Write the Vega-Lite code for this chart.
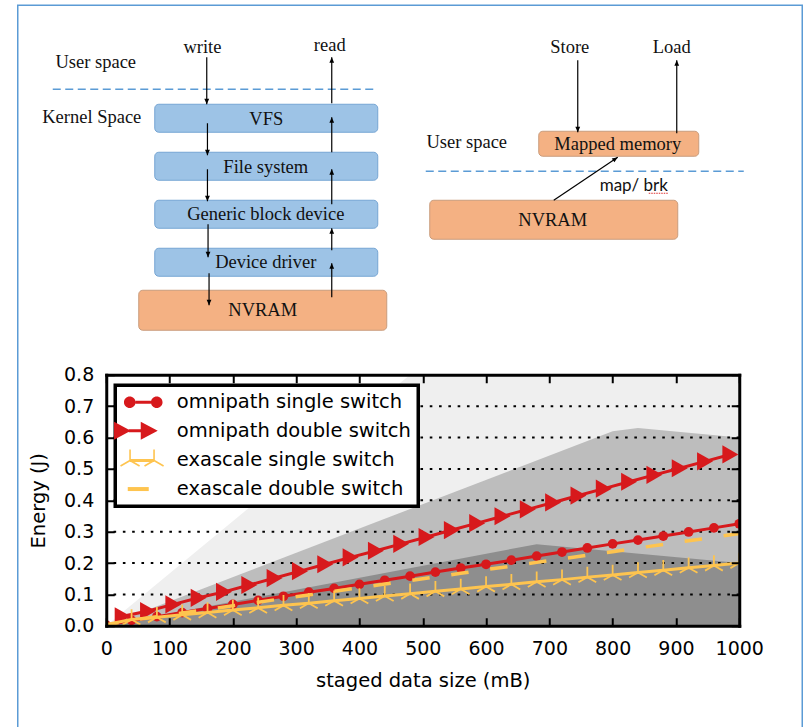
{
  "$schema": "https://vega.github.io/schema/vega-lite/v6.json",
  "padding": {"left": 16.25, "top": 4.25, "right": 2, "bottom": 0},
  "autosize": {"type": "pad"},
  "bounds": "flush",
  "spacing": 9.5,
  "config": {
    "view": {"stroke": null},
    "font": "DejaVu Sans",
    "axis": {"labelColor": "black", "titleColor": "black", "tickColor": "black", "domainColor": "black", "labelFont": "DejaVu Sans", "titleFont": "DejaVu Sans", "titleFontWeight": "normal"},
    "legend": {"strokeWidth": 3.5}
  },
  "datasets": {
    "frame": [{"x": 0, "x2": 784.5, "y": 0, "y2": 735}],
    "dashes": [{"x": 35, "x2": 358, "y": 84}, {"x": 408, "x2": 726, "y": 166}],
    "boxes": [
      {"x": 137, "x2": 360, "y": 99, "y2": 127, "k": "kernel"},
      {"x": 137, "x2": 360, "y": 147, "y2": 175, "k": "kernel"},
      {"x": 137, "x2": 360, "y": 195, "y2": 223, "k": "kernel"},
      {"x": 137, "x2": 360, "y": 243, "y2": 271, "k": "kernel"},
      {"x": 121, "x2": 369, "y": 285, "y2": 325, "k": "memory"},
      {"x": 521, "x2": 681, "y": 126, "y2": 151, "k": "memory"},
      {"x": 412, "x2": 660, "y": 195, "y2": 234, "k": "memory"}
    ],
    "arrows": [
      {"x": 189, "y": 52, "x2": 189, "y2": 99, "d": "down"},
      {"x": 189.7, "y": 118, "x2": 189.7, "y2": 150, "d": "down"},
      {"x": 189.7, "y": 164, "x2": 189.7, "y2": 196, "d": "down"},
      {"x": 190.3, "y": 219, "x2": 190.3, "y2": 252, "d": "down"},
      {"x": 191.3, "y": 268, "x2": 191.3, "y2": 300, "d": "down"},
      {"x": 314, "y": 98, "x2": 314, "y2": 52, "d": "up"},
      {"x": 314, "y": 147, "x2": 314, "y2": 112, "d": "up"},
      {"x": 314, "y": 199, "x2": 314, "y2": 164, "d": "up"},
      {"x": 314, "y": 245, "x2": 314, "y2": 223, "d": "up"},
      {"x": 314, "y": 292, "x2": 314, "y2": 258, "d": "up"},
      {"x": 560, "y": 55, "x2": 560, "y2": 127, "d": "down"},
      {"x": 659, "y": 128, "x2": 659, "y2": 55, "d": "up"},
      {"x": 536, "y": 195, "x2": 600, "y2": 152, "d": "diag"}
    ],
    "labels": [
      {"x": 78, "y": 57, "t": "User space"},
      {"x": 74, "y": 112, "t": "Kernel Space"},
      {"x": 184.7, "y": 42, "t": "write"},
      {"x": 312, "y": 39.5, "t": "read"},
      {"x": 248.5, "y": 113.7, "t": "VFS"},
      {"x": 248, "y": 161.3, "t": "File system"},
      {"x": 248, "y": 209, "t": "Generic block device"},
      {"x": 248, "y": 257, "t": "Device driver"},
      {"x": 245, "y": 305, "t": "NVRAM"},
      {"x": 552, "y": 41.7, "t": "Store"},
      {"x": 654, "y": 41.7, "t": "Load"},
      {"x": 449, "y": 136.3, "t": "User space"},
      {"x": 600, "y": 138.7, "t": "Mapped memory"},
      {"x": 535, "y": 214.7, "t": "NVRAM"}
    ],
    "sansLabels": [{"x": 616, "y": 180.5, "t": "map/ brk"}],
    "squiggle": [{"x": 631, "x2": 650, "y": 188}],
    "bandLight": [{"x": 0, "y": 0}, {"x": 480, "y": 0.8}, {"x": 1000, "y": 0.8}],
    "bandMid": [{"x": 0, "y": 0}, {"x": 800, "y": 0.62}, {"x": 840, "y": 0.63}, {"x": 1000, "y": 0.6}],
    "bandDark": [{"x": 0, "y": 0}, {"x": 680, "y": 0.26}, {"x": 1000, "y": 0.2}],
    "grid": [{"g": 0.1}, {"g": 0.2}, {"g": 0.3}, {"g": 0.4}, {"g": 0.5}, {"g": 0.6}, {"g": 0.7}],
    "os": [
      {"x": 0, "y": 0.002}, {"x": 40, "y": 0.017}, {"x": 80, "y": 0.029}, {"x": 120, "y": 0.042}, {"x": 160, "y": 0.055},
      {"x": 200, "y": 0.068}, {"x": 240, "y": 0.081}, {"x": 280, "y": 0.094}, {"x": 320, "y": 0.107}, {"x": 360, "y": 0.119},
      {"x": 400, "y": 0.132}, {"x": 440, "y": 0.145}, {"x": 480, "y": 0.158}, {"x": 520, "y": 0.171}, {"x": 560, "y": 0.184},
      {"x": 600, "y": 0.196}, {"x": 640, "y": 0.209}, {"x": 680, "y": 0.222}, {"x": 720, "y": 0.235}, {"x": 760, "y": 0.248},
      {"x": 800, "y": 0.261}, {"x": 840, "y": 0.273}, {"x": 880, "y": 0.286}, {"x": 920, "y": 0.299}, {"x": 960, "y": 0.312},
      {"x": 1000, "y": 0.325}
    ],
    "od": [
      {"x": 26, "y": 0.030}, {"x": 66, "y": 0.047}, {"x": 106, "y": 0.068}, {"x": 146, "y": 0.089}, {"x": 186, "y": 0.108},
      {"x": 226, "y": 0.130}, {"x": 266, "y": 0.152}, {"x": 306, "y": 0.174}, {"x": 346, "y": 0.196}, {"x": 386, "y": 0.218},
      {"x": 426, "y": 0.239}, {"x": 466, "y": 0.261}, {"x": 506, "y": 0.283}, {"x": 546, "y": 0.305}, {"x": 586, "y": 0.327},
      {"x": 626, "y": 0.349}, {"x": 666, "y": 0.371}, {"x": 706, "y": 0.393}, {"x": 746, "y": 0.415}, {"x": 786, "y": 0.437},
      {"x": 826, "y": 0.459}, {"x": 866, "y": 0.481}, {"x": 906, "y": 0.502}, {"x": 946, "y": 0.524}, {"x": 986, "y": 0.546}
    ],
    "es": [
      {"x": 0, "y": 0.004}, {"x": 40, "y": 0.020}, {"x": 80, "y": 0.027}, {"x": 120, "y": 0.035}, {"x": 160, "y": 0.042},
      {"x": 200, "y": 0.050}, {"x": 240, "y": 0.057}, {"x": 280, "y": 0.065}, {"x": 320, "y": 0.072}, {"x": 360, "y": 0.080},
      {"x": 400, "y": 0.087}, {"x": 440, "y": 0.095}, {"x": 480, "y": 0.102}, {"x": 520, "y": 0.110}, {"x": 560, "y": 0.117},
      {"x": 600, "y": 0.125}, {"x": 640, "y": 0.132}, {"x": 680, "y": 0.140}, {"x": 720, "y": 0.147}, {"x": 760, "y": 0.155},
      {"x": 800, "y": 0.162}, {"x": 840, "y": 0.170}, {"x": 880, "y": 0.177}, {"x": 920, "y": 0.185}, {"x": 960, "y": 0.192},
      {"x": 1000, "y": 0.200}
    ],
    "ed": [
      {"x": 0, "y": 0.002}, {"x": 40, "y": 0.018}, {"x": 80, "y": 0.029}, {"x": 120, "y": 0.041}, {"x": 160, "y": 0.052},
      {"x": 200, "y": 0.064}, {"x": 240, "y": 0.075}, {"x": 280, "y": 0.087}, {"x": 320, "y": 0.098}, {"x": 360, "y": 0.110},
      {"x": 400, "y": 0.121}, {"x": 440, "y": 0.133}, {"x": 480, "y": 0.144}, {"x": 520, "y": 0.156}, {"x": 560, "y": 0.167},
      {"x": 600, "y": 0.179}, {"x": 640, "y": 0.190}, {"x": 680, "y": 0.202}, {"x": 720, "y": 0.213}, {"x": 760, "y": 0.225},
      {"x": 800, "y": 0.236}, {"x": 840, "y": 0.248}, {"x": 880, "y": 0.259}, {"x": 920, "y": 0.271}, {"x": 960, "y": 0.282},
      {"x": 1000, "y": 0.294}
    ],
    "legendItems": [
      {"s": "omnipath single switch"},
      {"s": "omnipath double switch"},
      {"s": "exascale single switch"},
      {"s": "exascale double switch"}
    ]
  },
  "resolve": {"scale": {"x": "independent", "y": "independent", "shape": "independent", "color": "independent"}},
  "vconcat": [
    {
      "width": 634,
      "height": 360,
      "layer": [
        {
          "data": {"name": "frame"},
          "mark": {"type": "rect", "filled": false, "color": "#5b9bd5", "strokeWidth": 1.5},
          "encoding": {
            "x": {"field": "x", "type": "quantitative", "scale": {"domain": [0, 784], "range": [-88.5, 695.5], "nice": false, "zero": false}, "axis": null},
            "x2": {"field": "x2"},
            "y": {"field": "y", "type": "quantitative", "scale": {"domain": [0, 360], "range": [0, 360], "nice": false, "zero": false}, "axis": null},
            "y2": {"field": "y2"}
          }
        },
        {
          "data": {"name": "dashes"},
          "mark": {"type": "rule", "color": "#5b9bd5", "strokeWidth": 1.5, "strokeDash": [8, 4.5]},
          "encoding": {
            "x": {"field": "x", "type": "quantitative", "axis": null},
            "x2": {"field": "x2"},
            "y": {"field": "y", "type": "quantitative", "axis": null}
          }
        },
        {
          "data": {"name": "boxes"},
          "mark": {"type": "rect", "cornerRadius": 4, "strokeWidth": 1},
          "encoding": {
            "x": {"field": "x", "type": "quantitative", "axis": null},
            "x2": {"field": "x2"},
            "y": {"field": "y", "type": "quantitative", "axis": null},
            "y2": {"field": "y2"},
            "fill": {"field": "k", "type": "nominal", "scale": {"domain": ["kernel", "memory"], "range": ["#9dc3e6", "#f4b183"]}, "legend": null},
            "stroke": {"field": "k", "type": "nominal", "scale": {"domain": ["kernel", "memory"], "range": ["#76a5d3", "#c99c7c"]}, "legend": null}
          }
        },
        {
          "data": {"name": "arrows"},
          "mark": {"type": "rule", "color": "black", "strokeWidth": 1.2},
          "encoding": {
            "x": {"field": "x", "type": "quantitative", "axis": null},
            "x2": {"field": "x2"},
            "y": {"field": "y", "type": "quantitative", "axis": null},
            "y2": {"field": "y2"}
          }
        },
        {
          "data": {"name": "arrows"},
          "mark": {"type": "point", "filled": true, "color": "black", "opacity": 1, "size": 64},
          "encoding": {
            "x": {"field": "x2", "type": "quantitative", "axis": null},
            "y": {"field": "y2", "type": "quantitative", "axis": null},
            "shape": {"field": "d", "type": "nominal", "scale": {"domain": ["down", "up", "diag"], "range": ["M0,0L-0.6,-1.4L0.6,-1.4Z", "M0,0L-0.6,1.4L0.6,1.4Z", "M0,0L-0.827,1.279L-1.497,0.283Z"]}, "legend": null}
          }
        },
        {
          "data": {"name": "labels"},
          "mark": {"type": "text", "font": "Liberation Serif", "fontSize": 18.5, "color": "#111111", "align": "center", "baseline": "middle"},
          "encoding": {
            "x": {"field": "x", "type": "quantitative", "axis": null},
            "y": {"field": "y", "type": "quantitative", "axis": null},
            "text": {"field": "t"}
          }
        },
        {
          "data": {"name": "sansLabels"},
          "mark": {"type": "text", "font": "Lato", "fontSize": 17, "color": "#111111", "align": "center", "baseline": "middle"},
          "encoding": {
            "x": {"field": "x", "type": "quantitative", "axis": null},
            "y": {"field": "y", "type": "quantitative", "axis": null},
            "text": {"field": "t"}
          }
        },
        {
          "data": {"name": "squiggle"},
          "mark": {"type": "rule", "color": "#e03030", "strokeWidth": 1.2, "strokeDash": [1.5, 1]},
          "encoding": {
            "x": {"field": "x", "type": "quantitative", "axis": null},
            "x2": {"field": "x2"},
            "y": {"field": "y", "type": "quantitative", "axis": null}
          }
        }
      ]
    },
    {
      "width": 633,
      "height": 251,
      "resolve": {"axis": {"x": "independent", "y": "independent"}},
      "layer": [
        {
          "data": {"name": "bandLight"},
          "mark": {"type": "area", "color": "#efefef", "clip": true, "opacity": 1},
          "encoding": {
            "x": {"field": "x", "type": "quantitative", "scale": {"domain": [0, 1000], "nice": false, "zero": false},
              "axis": {"orient": "bottom", "values": [0, 100, 200, 300, 400, 500, 600, 700, 800, 900, 1000], "format": "d", "tickSize": -8, "tickWidth": 2, "labelPadding": 21.5, "labelFontSize": 19, "labelFlush": false, "labelOverlap": false, "domain": true, "domainWidth": 3, "domainCap": "square", "grid": false, "title": "staged data size (mB)", "titleFontSize": 19.5, "titlePadding": 13, "zindex": 1}},
            "y": {"field": "y", "type": "quantitative", "scale": {"domain": [0, 0.8], "nice": false, "zero": false},
              "axis": {"orient": "left", "values": [0, 0.1, 0.2, 0.3, 0.4, 0.5, 0.6, 0.7, 0.8], "format": ".1f", "tickSize": -8, "tickWidth": 2, "labelPadding": 20.5, "labelFontSize": 19, "labelFlush": false, "labelOverlap": false, "domain": true, "domainWidth": 3, "domainCap": "square", "grid": false, "title": "Energy (J)", "titleFontSize": 19.5, "titlePadding": 15, "zindex": 1}}
          }
        },
        {
          "data": {"name": "bandMid"},
          "mark": {"type": "area", "color": "#bdbdbd", "clip": true, "opacity": 1},
          "encoding": {
            "x": {"field": "x", "type": "quantitative", "scale": {"domain": [0, 1000], "nice": false, "zero": false}, "axis": null},
            "y": {"field": "y", "type": "quantitative", "scale": {"domain": [0, 0.8], "nice": false, "zero": false}, "axis": null}
          }
        },
        {
          "data": {"name": "bandDark"},
          "mark": {"type": "area", "color": "#8e8e8e", "clip": true, "opacity": 1},
          "encoding": {
            "x": {"field": "x", "type": "quantitative", "scale": {"domain": [0, 1000], "nice": false, "zero": false}, "axis": null},
            "y": {"field": "y", "type": "quantitative", "scale": {"domain": [0, 0.8], "nice": false, "zero": false}, "axis": null}
          }
        },
        {
          "data": {"name": "grid"},
          "mark": {"type": "rule", "color": "black", "strokeWidth": 2, "strokeDash": [2.6, 6.7]},
          "encoding": {
            "y": {"field": "g", "type": "quantitative", "scale": {"domain": [0, 0.8], "nice": false, "zero": false}, "axis": null}
          }
        },
        {
          "data": {"name": "os"},
          "mark": {"type": "line", "color": "#d7191c", "strokeWidth": 3, "clip": true},
          "encoding": {
            "x": {"field": "x", "type": "quantitative", "scale": {"domain": [0, 1000], "nice": false, "zero": false}, "axis": null},
            "y": {"field": "y", "type": "quantitative", "scale": {"domain": [0, 0.8], "nice": false, "zero": false}, "axis": null}
          }
        },
        {
          "data": {"name": "os"},
          "mark": {"type": "point", "shape": "circle", "filled": true, "size": 95, "color": "#d7191c", "opacity": 1, "clip": true},
          "encoding": {
            "x": {"field": "x", "type": "quantitative", "scale": {"domain": [0, 1000], "nice": false, "zero": false}, "axis": null},
            "y": {"field": "y", "type": "quantitative", "scale": {"domain": [0, 0.8], "nice": false, "zero": false}, "axis": null}
          }
        },
        {
          "data": {"name": "od"},
          "mark": {"type": "line", "color": "#d7191c", "strokeWidth": 3, "clip": true},
          "encoding": {
            "x": {"field": "x", "type": "quantitative", "scale": {"domain": [0, 1000], "nice": false, "zero": false}, "axis": null},
            "y": {"field": "y", "type": "quantitative", "scale": {"domain": [0, 0.8], "nice": false, "zero": false}, "axis": null}
          }
        },
        {
          "data": {"name": "od"},
          "mark": {"type": "point", "shape": "M-0.88,-1L0.88,0L-0.88,1Z", "filled": true, "size": 330, "color": "#d7191c", "opacity": 1, "clip": true},
          "encoding": {
            "x": {"field": "x", "type": "quantitative", "scale": {"domain": [0, 1000], "nice": false, "zero": false}, "axis": null},
            "y": {"field": "y", "type": "quantitative", "scale": {"domain": [0, 0.8], "nice": false, "zero": false}, "axis": null}
          }
        },
        {
          "data": {"name": "es"},
          "mark": {"type": "line", "color": "#fec44f", "strokeWidth": 3, "clip": true},
          "encoding": {
            "x": {"field": "x", "type": "quantitative", "scale": {"domain": [0, 1000], "nice": false, "zero": false}, "axis": null},
            "y": {"field": "y", "type": "quantitative", "scale": {"domain": [0, 0.8], "nice": false, "zero": false}, "axis": null}
          }
        },
        {
          "data": {"name": "es"},
          "mark": {"type": "point", "shape": "M0,0L0,-1M0,0L-0.866,0.5M0,0L0.866,0.5", "filled": false, "size": 420, "color": "#fec44f", "strokeWidth": 1.8, "opacity": 1, "clip": true},
          "encoding": {
            "x": {"field": "x", "type": "quantitative", "scale": {"domain": [0, 1000], "nice": false, "zero": false}, "axis": null},
            "y": {"field": "y", "type": "quantitative", "scale": {"domain": [0, 0.8], "nice": false, "zero": false}, "axis": null}
          }
        },
        {
          "data": {"name": "legendItems"},
          "mark": {"type": "point", "filled": true, "opacity": 1, "clip": true},
          "encoding": {
            "x": {"datum": 500, "type": "quantitative", "scale": {"domain": [0, 1000], "nice": false, "zero": false}, "axis": null},
            "y": {"datum": 5, "type": "quantitative", "scale": {"domain": [0, 0.8], "nice": false, "zero": false}, "axis": null},
            "color": {"field": "s", "type": "nominal",
              "scale": {"domain": ["omnipath single switch", "omnipath double switch", "exascale single switch", "exascale double switch"], "range": ["#d7191c", "#d7191c", "#fec44f", "#fec44f"]},
              "legend": {"title": null, "orient": "none", "legendX": 9, "legendY": 10.5, "direction": "vertical", "padding": 7, "rowPadding": 8.6, "strokeColor": "black", "fillColor": "white", "labelFont": "DejaVu Sans", "labelFontSize": 19.5, "labelColor": "black", "labelOffset": 26, "symbolOffset": 8.5, "symbolSize": 400, "symbolStrokeWidth": 0, "symbolOpacity": 1, "labelLimit": 400, "zindex": 2}},
            "shape": {"field": "s", "type": "nominal",
              "scale": {"domain": ["omnipath single switch", "omnipath double switch", "exascale single switch", "exascale double switch"],
                "range": [
                  "M-1.68,0A0.58,0.58 0 1,1 -0.52,0A0.58,0.58 0 1,1 -1.68,0ZM1.02,0A0.58,0.58 0 1,1 2.18,0A0.58,0.58 0 1,1 1.02,0ZM-0.52,-0.15L1.02,-0.15L1.02,0.15L-0.52,0.15Z",
                  "M-2.67,-0.9L-1,0L-2.67,0.9ZM0,-0.9L1.7,0L0,0.9ZM-1.2,-0.15L0.1,-0.15L0.1,0.15L-1.2,0.15Z",
                  "M-1.15,-1.1L-0.99,-1.1L-0.99,0L-1.15,0ZM-1.03,0.069L-1.983,0.619L-2.063,0.481L-1.11,-0.069ZM-1.03,-0.069L-0.077,0.481L-0.157,0.619L-1.11,0.069ZM1.25,-1.1L1.41,-1.1L1.41,0L1.25,0ZM1.37,0.069L0.417,0.619L0.337,0.481L1.29,-0.069ZM1.37,-0.069L2.323,0.481L2.243,0.619L1.29,0.069ZM-1.07,-0.15L1.33,-0.15L1.33,0.15L-1.07,0.15Z",
                  "M-1.3,-0.2L0.8,-0.2L0.8,0.2L-1.3,0.2Z"
                ]},
              "legend": {"title": null, "orient": "none", "legendX": 9, "legendY": 10.5, "direction": "vertical", "padding": 7, "rowPadding": 8.6, "strokeColor": "black", "fillColor": "white", "labelFont": "DejaVu Sans", "labelFontSize": 19.5, "labelColor": "black", "labelOffset": 26, "symbolOffset": 8.5, "symbolSize": 400, "symbolStrokeWidth": 0, "symbolOpacity": 1, "labelLimit": 400, "zindex": 2}}
          }
        },
        {
          "data": {"name": "ed"},
          "mark": {"type": "line", "color": "#fec44f", "strokeWidth": 3.5, "strokeDash": [17.5, 21.8], "strokeDashOffset": 5, "clip": true},
          "encoding": {
            "x": {"field": "x", "type": "quantitative", "scale": {"domain": [0, 1000], "nice": false, "zero": false},
              "axis": {"orient": "top", "values": [0, 100, 200, 300, 400, 500, 600, 700, 800, 900, 1000], "tickSize": -8, "tickWidth": 2, "labels": false, "title": null, "domain": true, "domainWidth": 3, "domainCap": "square", "grid": false, "zindex": 1}},
            "y": {"field": "y", "type": "quantitative", "scale": {"domain": [0, 0.8], "nice": false, "zero": false},
              "axis": {"orient": "right", "values": [0, 0.1, 0.2, 0.3, 0.4, 0.5, 0.6, 0.7, 0.8], "tickSize": -8, "tickWidth": 2, "labels": false, "title": null, "domain": true, "domainWidth": 3, "domainCap": "square", "grid": false, "zindex": 1}}
          }
        }
      ]
    }
  ]
}
